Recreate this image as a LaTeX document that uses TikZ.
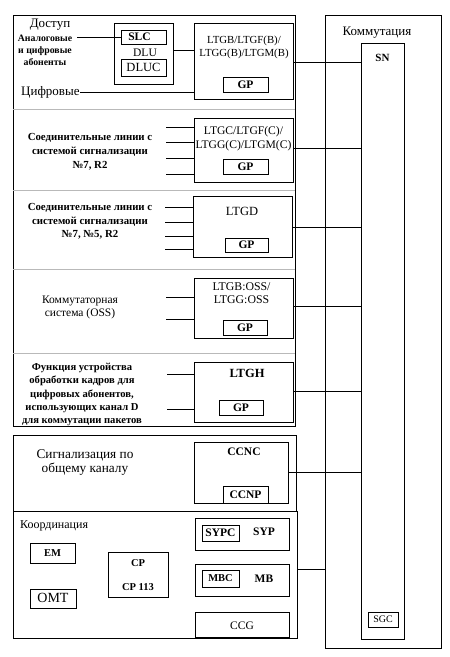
\documentclass[tikz,border=0pt]{standalone}
\usepackage{fontspec}
\setmainfont{Liberation Serif}
\begin{document}
\begin{tikzpicture}[x=1pt,y=-1pt]
\tikzset{
  b/.style 2 args={draw, line width=0.9pt, minimum width=#1pt, minimum height=#2pt,
    anchor=north west, inner sep=0pt, outer sep=0pt},
  conn/.style={line width=0.7pt},
  sep/.style={draw=gray!55, line width=0.6pt},
  lbl/.style={inner sep=0pt, font=\fontsize{10.5}{12}\selectfont},
  blbl/.style={inner sep=0pt, font=\fontsize{10.5}{12}\selectfont\bfseries},
  gpl/.style={inner sep=0pt, font=\fontsize{11.5}{12}\selectfont\bfseries},
}
\useasboundingbox (0,0) rectangle (450,657);

% ---------- big left block
\node[b={282}{411}] (acc) at (13,15) {};
\foreach \yy in {109,190,269,353}{
  \draw[sep] (acc.west |- 0,\yy) -- (acc.east |- 0,\yy);
}

% ---------- Kommutatsiya
\node[b={116}{633}] (kom) at (325,15) {};
\node[lbl, font=\fontsize{13}{15}\selectfont] (komt) at (377,33) {Коммутация};
\node[b={43}{596}] (sn) at (361,43) {};
\node[inner sep=0pt, font=\fontsize{11}{12}\selectfont\bfseries] (snt) at (382.5,58) {SN};
\node[b={30}{15}] (sgc) at (368,612) {};
\node[lbl, font=\fontsize{10}{11}\selectfont] at (sgc.center) {SGC};

% ---------- section 1: Access
\node[lbl, font=\fontsize{13}{14}\selectfont] (dost) at (50,25) {Доступ};
\node[inner sep=0pt, align=center, font=\fontsize{9.8}{12}\selectfont\bfseries] (analog) at (45,50)
  {Аналоговые\\и цифровые\\абоненты};
\coordinate (analogend) at (77,37);
\node[lbl, font=\fontsize{13}{14}\selectfont, anchor=west] (cifr) at (21,92) {Цифровые};

\node[b={59}{61}] (dlu) at (114,23) {};
\node[b={45}{14}] (slc) at (121,30) {};
\node[gpl] at ([xshift=-4]slc.center) {SLC};
\node[lbl, font=\fontsize{11.5}{12}\selectfont] (dlut) at (145,52.5) {DLU};
\node[b={45}{17}] (dluc) at (121,59) {};
\node[inner sep=0pt, font=\fontsize{12.5}{13}\selectfont] at (dluc.center) {DLUC};

\node[b={99}{76}] (ltgb) at (194,23) {};
\node[inner sep=0pt, align=center, font=\fontsize{10.8}{13}\selectfont] at (244,47.5)
  {LTGB/LTGF(B)/\\LTGG(B)/LTGM(B)};
\node[b={45}{15}] (gp1) at (223,77) {};
\node[gpl] at (gp1.center) {GP};

\draw[conn] (analogend) -- (slc.west |- analogend);
\draw[conn] (dlu.east |- 0,50) -- (ltgb.west |- 0,50);
\draw[conn] (cifr.east) -- (ltgb.west |- cifr.east);
\draw[conn] (ltgb.east |- 0,62) -- (sn.west |- 0,62);

% ---------- section 2: LTGC
\node[inner sep=0pt, align=center, font=\fontsize{10.8}{14}\selectfont\bfseries] (t2) at (90,152)
  {Соединительные линии с\\системой сигнализации\\№7, R2};
\node[b={99}{64}] (ltgc) at (194,118) {};
\node[inner sep=0pt, align=center, font=\fontsize{11.6}{14}\selectfont] at (243.5,139)
  {LTGC/LTGF(C)/\\LTGG(C)/LTGM(C)};
\node[b={45}{15}] (gp2) at (223,159) {};
\node[gpl] at (gp2.center) {GP};
\foreach \yy [count=\i] in {127,142,158,174}{
  \coordinate (c2\i) at (166,\yy);
  \draw[conn] (c2\i) -- (ltgc.west |- c2\i);
}
\draw[conn] (ltgc.east |- 0,148) -- (sn.west |- 0,148);

% ---------- section 3: LTGD
\node[inner sep=0pt, align=center, font=\fontsize{10.8}{13.5}\selectfont\bfseries] (t3) at (90,221.5)
  {Соединительные линии с\\системой сигнализации\\№7, №5, R2};
\node[b={99}{61}] (ltgd) at (193,196) {};
\node[inner sep=0pt, font=\fontsize{12.5}{13}\selectfont] at (242,211) {LTGD};
\node[b={43}{14}] (gp3) at (225,238) {};
\node[gpl] at (gp3.center) {GP};
\foreach \yy [count=\i] in {207,222,236,249}{
  \coordinate (c3\i) at (165,\yy);
  \draw[conn] (c3\i) -- (ltgd.west |- c3\i);
}
\draw[conn] (ltgd.east |- 0,227) -- (sn.west |- 0,227);

% ---------- section 4: OSS
\node[inner sep=0pt, align=center, font=\fontsize{11.5}{13}\selectfont] (t4) at (80,307.5)
  {Коммутаторная\\система (OSS)};
\node[b={99}{60}] (oss) at (194,278) {};
\node[inner sep=0pt, align=center, font=\fontsize{11.8}{13}\selectfont] at (241.5,293.5)
  {LTGB:OSS/\\LTGG:OSS};
\node[b={44}{15}] (gp4) at (223,320) {};
\node[gpl] at (gp4.center) {GP};
\foreach \yy [count=\i] in {297,319}{
  \coordinate (c4\i) at (166,\yy);
  \draw[conn] (c4\i) -- (oss.west |- c4\i);
}
\draw[conn] (oss.east |- 0,306) -- (sn.west |- 0,306);

% ---------- section 5: LTGH
\node[inner sep=0pt, align=center, font=\fontsize{10.6}{13.25}\selectfont\bfseries] (t5) at (82,394.5)
  {Функция устройства\\обработки кадров для\\цифровых абонентов,\\использующих канал D\\для коммутации пакетов};
\node[b={99}{60}] (ltgh) at (194,362) {};
\node[inner sep=0pt, font=\fontsize{12.5}{13}\selectfont\bfseries] at (247,373) {LTGH};
\node[b={44}{15}] (gp5) at (219,400) {};
\node[gpl] at (gp5.center) {GP};
\foreach \yy [count=\i] in {374,409}{
  \coordinate (c5\i) at (167,\yy);
  \draw[conn] (c5\i) -- (ltgh.west |- c5\i);
}
\draw[conn] (ltgh.east |- 0,391) -- (sn.west |- 0,391);

% ---------- CCNC block
\node[b={283}{76}] (ccs) at (13,435) {};
\node[inner sep=0pt, align=center, font=\fontsize{13.3}{13.5}\selectfont] (t6) at (85,462.5)
  {Сигнализация по\\общему каналу};
\node[b={94}{61}] (ccnc) at (194,442) {};
\node[inner sep=0pt, font=\fontsize{11.5}{12}\selectfont\bfseries] at (244,452) {CCNC};
\node[b={45}{17}] (ccnp) at (223,486) {};
\node[gpl] at (ccnp.center) {CCNP};
\draw[conn] (ccnc.east |- 0,472) -- (sn.west |- 0,472);

% ---------- Coordination block
\node[b={284}{127}] (coord) at (13,511) {};
\node[lbl, font=\fontsize{12}{14}\selectfont, anchor=west] (coordt) at (20,526) {Координация};
\node[b={45}{20}] (em) at (30,543) {};
\node[blbl] at (em.center) {EM};
\node[b={46}{19}] (omt) at (30,589) {};
\node[inner sep=0pt, font=\fontsize{14}{15}\selectfont] at ([yshift=1]omt.center) {OMT};
\node[b={60}{45}] (cp) at (108,552) {};
\node[blbl] at (138,563) {CP};
\node[blbl] at (138,587) {CP 113};

\node[b={94}{32}] (syp) at (195,518) {};
\node[b={37}{16}] (sypc) at (202,525) {};
\node[inner sep=0pt, font=\fontsize{11.5}{12}\selectfont\bfseries] at (sypc.center) {SYPC};
\node[gpl] at (264,532) {SYP};
\node[b={94}{32}] (mb) at (195,564) {};
\node[b={37}{17}] (mbc) at (202,570) {};
\node[blbl] at (mbc.center) {MBC};
\node[gpl] at (264,578.5) {MB};
\node[b={94}{25}] (ccg) at (195,612) {};
\node[inner sep=0pt, font=\fontsize{11.5}{12}\selectfont] at (242,625.5) {CCG};

\draw[conn] (coord.east |- 0,569) -- (kom.west |- 0,569);
\end{tikzpicture}
\end{document}
